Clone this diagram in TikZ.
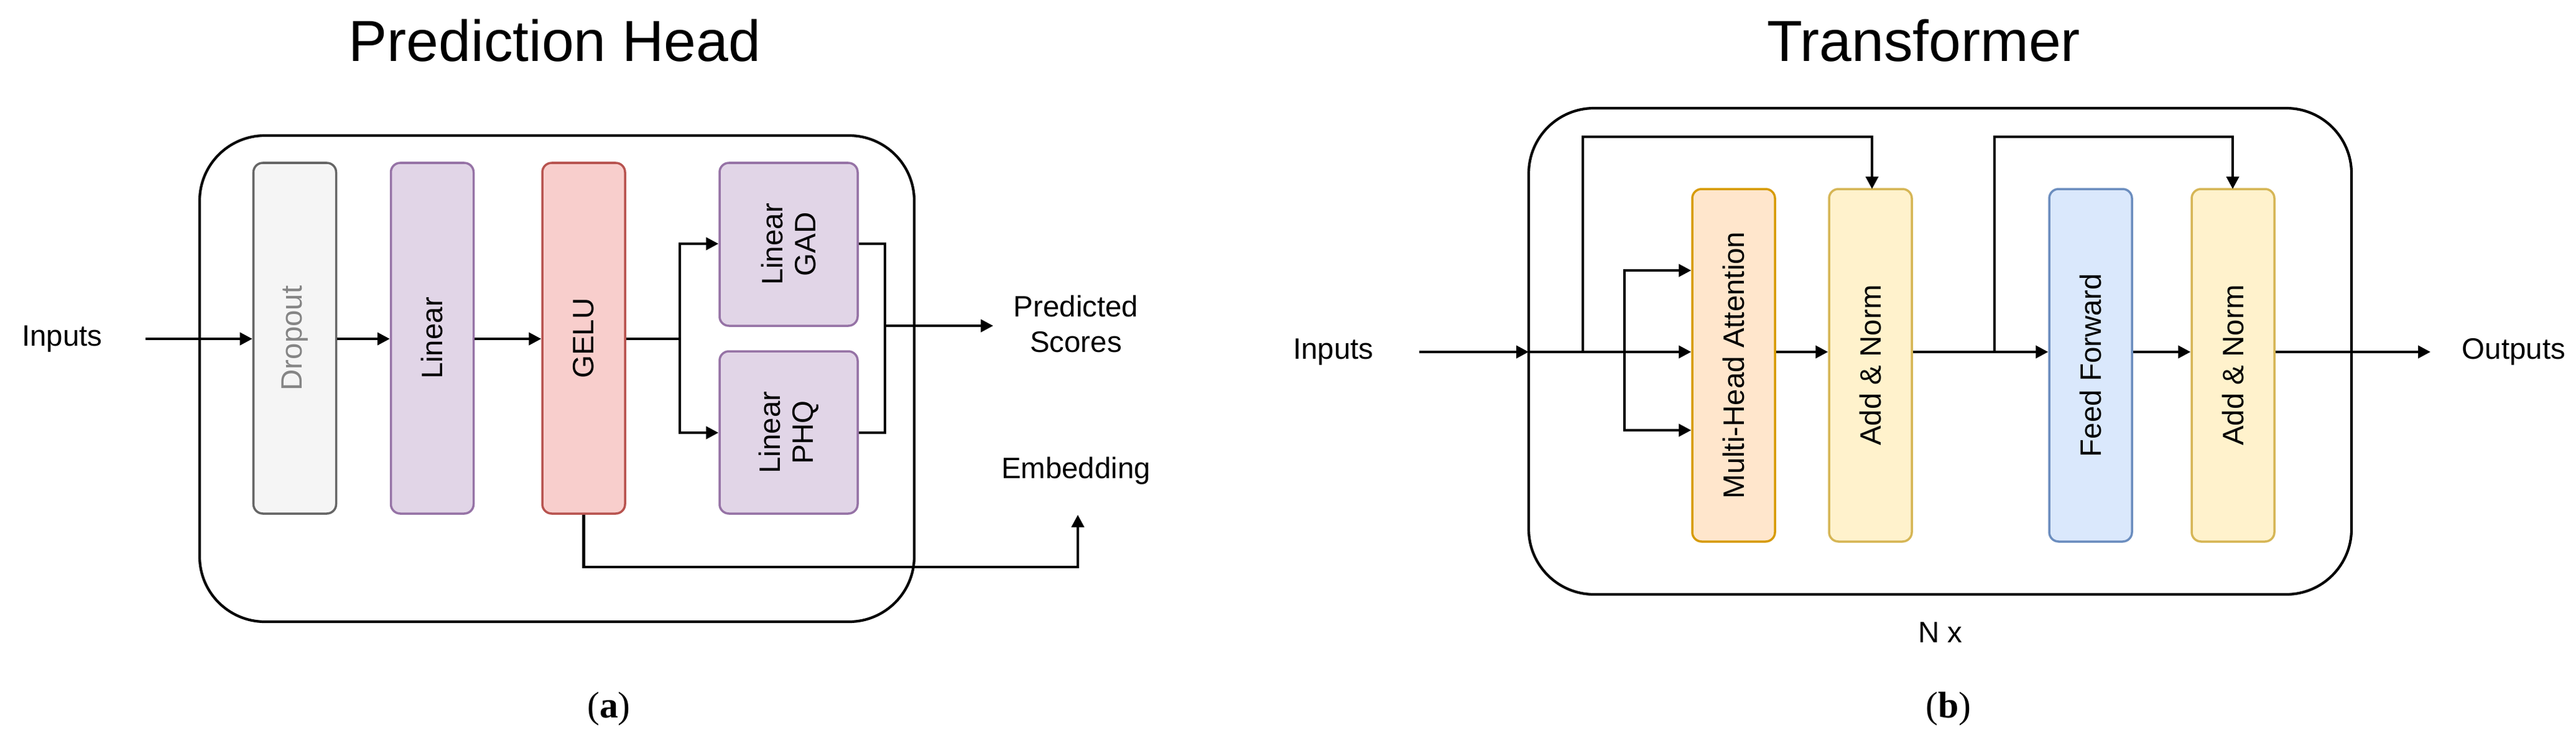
\documentclass[tikz,border=0pt]{standalone}
\usepackage{fontspec}
\setmainfont{Liberation Sans}
\newfontfamily\capfont{Liberation Serif}
\usetikzlibrary{arrows.meta}
\definecolor{dropF}{HTML}{F5F5F5}\definecolor{dropD}{HTML}{666666}
\definecolor{linF}{HTML}{E1D5E7}\definecolor{linD}{HTML}{9673A6}
\definecolor{geluF}{HTML}{F8CECC}\definecolor{geluD}{HTML}{B85450}
\definecolor{mhaF}{HTML}{FFE6CC}\definecolor{mhaD}{HTML}{D79B00}
\definecolor{anF}{HTML}{FFF2CC}\definecolor{anD}{HTML}{D6B656}
\definecolor{ffF}{HTML}{DAE8FC}\definecolor{ffD}{HTML}{6C8EBF}
\tikzset{
 blk/.style={draw, line width=1pt, rounded corners=0.15cm, minimum width=1.33cm, inner sep=0pt},
 vtxt/.style={rotate=90, font=\fontsize{13.5}{15}\selectfont},
 lbl/.style={font=\fontsize{13.5}{16}\selectfont, align=center},
 arr/.style={line width=1.2pt, -{Triangle[length=0.2cm,width=0.2cm]}},
 ln/.style={line width=1.2pt},
 outer/.style={draw, line width=1.2pt, rounded corners=1.05cm},
 ttl/.style={font=\fontsize{26.5}{30}\selectfont},
 captxt/.style={font=\capfont\fontsize{17}{20}\selectfont}
}
\begin{document}
\begin{tikzpicture}
\useasboundingbox (0,0) rectangle (41.42,-11.86);
% ---------- (a) ----------
\node[ttl] (t1) at (8.92,-0.65) {Prediction Head};
\draw[outer] (3.21,-2.18) rectangle (14.70,-10.00);
\node[blk, fill=dropF, draw=dropD, minimum height=5.64cm] (drop) at (4.74,-5.44) {};
\node[vtxt, text=dropD!80] at (drop) {Dropout};
\node[blk, fill=linF, draw=linD, minimum height=5.64cm] (lin) at (6.95,-5.44) {};
\node[vtxt] at (lin) {Linear};
\node[blk, fill=geluF, draw=geluD, minimum height=5.64cm] (gelu) at (9.385,-5.44) {};
\node[vtxt] at (gelu) {GELU};
\node[blk, fill=linF, draw=linD, minimum width=2.22cm, minimum height=2.62cm] (gad) at (12.68,-3.93) {};
\node[vtxt, align=center] at (gad) {Linear\\GAD};
\node[blk, fill=linF, draw=linD, minimum width=2.22cm, minimum height=2.61cm] (phq) at (12.68,-6.955) {};
\node[vtxt, align=center] at (phq) {Linear\\PHQ};
\node[lbl] (inA) at (1.00,-5.45) {Inputs};
\coordinate (inAs) at (2.34,-5.45);
\draw[arr] (inAs) -- (drop.west |- inAs);
\draw[arr] (drop.east |- inAs) -- (lin.west |- inAs);
\draw[arr] (lin.east |- inAs) -- (gelu.west |- inAs);
\coordinate (br) at (10.93,-5.45);
\draw[ln] (gelu.east |- inAs) -- (br);
\draw[arr] (br) |- (gad.west |- 0,-3.92);
\draw[arr] (br) |- (phq.west |- 0,-6.96);
\coordinate (mg) at (14.23,-5.24);
\draw[ln] (gad.east |- 0,-3.92) -| (mg) |- (phq.east |- 0,-6.96);
\node[lbl] (ps) at (17.30,-5.21) {Predicted\\Scores};
\draw[arr] (mg) -- (15.97,-5.24);
\node[lbl] (emb) at (17.30,-7.57) {Embedding};
\coordinate (ea) at (17.33,-9.12);
\draw[arr] (gelu.south) |- (ea) -- (17.33,-8.28);
\node[captxt] at (9.79,-11.40) {(\textbf{a})};
% ---------- (b) ----------
\node[ttl] (t2) at (30.93,-0.65) {Transformer};
\draw[outer] (24.58,-1.74) rectangle (37.81,-9.56);
\node[blk, fill=mhaF, draw=mhaD, minimum height=5.67cm] (mha) at (27.875,-5.875) {};
\node[vtxt] at (mha) {Multi-Head Attention};
\node[blk, fill=anF, draw=anD, minimum height=5.67cm] (an1) at (30.075,-5.875) {};
\node[vtxt] at (an1) {Add \& Norm};
\node[blk, fill=ffF, draw=ffD, minimum height=5.67cm] (ff) at (33.615,-5.875) {};
\node[vtxt] at (ff) {Feed Forward};
\node[blk, fill=anF, draw=anD, minimum height=5.67cm] (an2) at (35.905,-5.875) {};
\node[vtxt] at (an2) {Add \& Norm};
\node[lbl] (inB) at (21.44,-5.66) {Inputs};
\coordinate (inBs) at (22.82,-5.66);
\coordinate (bx) at (24.58,-5.66);
\draw[arr] (inBs) -- (bx);
\coordinate (s1) at (25.45,-5.66);
\coordinate (b1) at (26.12,-5.66);
\draw[ln] (bx) -- (b1);
\draw[arr] (b1) |- (mha.west |- 0,-4.35);
\draw[arr] (b1) -- (mha.west |- b1);
\draw[arr] (b1) |- (mha.west |- 0,-6.92);
\draw[arr] (s1) |- (30.10,-2.20) -- (30.10,-3.04);
\draw[arr] (mha.east |- b1) -- (an1.west |- b1);
\coordinate (s2) at (32.07,-5.66);
\draw[arr] (an1.east |- b1) -- (ff.west |- b1);
\draw[arr] (s2) |- (35.90,-2.20) -- (35.90,-3.04);
\draw[arr] (ff.east |- b1) -- (an2.west |- b1);
\node[lbl] (outB) at (40.42,-5.66) {Outputs};
\draw[arr] (an2.east |- b1) -- (39.08,-5.66);
\node[lbl] (nx) at (31.20,-10.17) {N x};
\node[captxt] at (31.33,-11.40) {(\textbf{b})};
\end{tikzpicture}
\end{document}
